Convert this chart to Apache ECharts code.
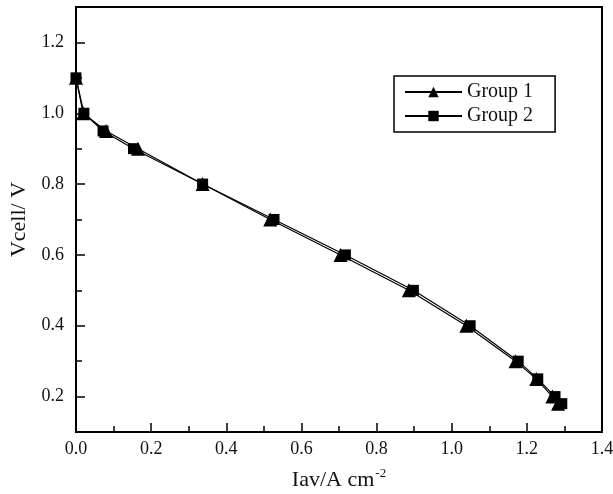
<!DOCTYPE html>
<html><head><meta charset="utf-8">
<script src="https://cdn.jsdelivr.net/npm/echarts@6/dist/echarts.min.js"></script>
<style>html,body{margin:0;padding:0;background:#fff}#c{width:613px;height:494px}</style>
</head><body><div id="c"></div>
<script>
const seriesNames = ['Group 1', 'Group 2'];
const group1X = [0.000, 0.019, 0.080, 0.165, 0.337, 0.517, 0.704, 0.886, 1.039, 1.170, 1.225, 1.268, 1.283];
const group1Y = [1.10, 1.00, 0.95, 0.90, 0.80, 0.70, 0.60, 0.50, 0.40, 0.30, 0.25, 0.20, 0.18];
const group2X = [0.000, 0.021, 0.072, 0.153, 0.337, 0.527, 0.717, 0.898, 1.049, 1.177, 1.229, 1.275, 1.293];
const group2Y = [1.10, 1.00, 0.95, 0.90, 0.80, 0.70, 0.60, 0.50, 0.40, 0.30, 0.25, 0.20, 0.18];
const yMajorTicks = [0.2, 0.4, 0.6, 0.8, 1.0, 1.2];
const yMinorTicks = [0.3, 0.5, 0.7, 0.9, 1.1];
const xTitle = 'Iav/A cm';
const xTitleSup = '-2';
const yTitle = 'Vcell/ V';

const font = '"Liberation Serif", "DejaVu Serif", serif';
const pair = (xs, ys) => xs.map((x, i) => [x, ys[i]]);

const chart = echarts.init(document.getElementById('c'), null, {renderer: 'canvas'});
chart.setOption({
  animation: false,
  backgroundColor: '#fff',
  textStyle: {fontFamily: font},
  grid: {left: 76, right: 11, top: 7, bottom: 62, show: true, borderColor: '#000', borderWidth: 2,
         backgroundColor: 'transparent', containLabel: false, outerBoundsMode: 'none'},
  legend: {
    left: 394, top: 76, orient: 'vertical',
    itemWidth: 57, itemHeight: 13, itemGap: 4,
    padding: [6, 22, 6, 10],
    borderColor: '#000', borderWidth: 1.5,
    textStyle: {fontFamily: font, fontSize: 20, color: '#111'},
    data: seriesNames
  },
  xAxis: {
    type: 'value', min: 0, max: 1.4, interval: 0.2,
    name: '{a|' + xTitle + '}{b|' + xTitleSup + '}',
    nameLocation: 'middle', nameGap: 35,
    nameTextStyle: {rich: {a: {fontFamily: font, fontSize: 22, color: '#111'}, b: {fontFamily: font, fontSize: 13, color: '#111', verticalAlign: 'top', padding: [0, 0, 14, 1]}}},
    axisLine: {show: true, onZero: false, lineStyle: {color: '#000', width: 2}},
    axisTick: {show: true, inside: true, length: 9, lineStyle: {color: '#000', width: 1.5}},
    minorTick: {show: true, splitNumber: 2, length: 6, lineStyle: {color: '#000', width: 1.5}},
    splitLine: {show: false},
    axisLabel: {fontFamily: font, fontSize: 18, color: '#111', margin: 8, formatter: v => v.toFixed(1)}
  },
  yAxis: [{
    type: 'value', min: 0.1, max: 1.3,
    name: yTitle, nameLocation: 'middle', nameGap: 43, nameRotate: 90,
    nameTextStyle: {fontFamily: font, fontSize: 22, color: '#111'},
    axisLine: {show: true, onZero: false, lineStyle: {color: '#000', width: 2}},
    axisTick: {show: true, inside: true, length: 9, customValues: yMajorTicks, lineStyle: {color: '#000', width: 1.5}},
    splitLine: {show: false},
    axisLabel: {fontFamily: font, fontSize: 18, color: '#111', margin: 12, customValues: yMajorTicks, formatter: v => v.toFixed(1)}
  }, {
    type: 'value', min: 0.1, max: 1.3, position: 'left',
    axisLine: {show: false},
    axisTick: {show: true, inside: true, length: 6, customValues: yMinorTicks, lineStyle: {color: '#000', width: 1.5}},
    axisLabel: {show: false},
    splitLine: {show: false}
  }],
  series: [{
    name: seriesNames[0], type: 'line', yAxisIndex: 0,
    data: pair(group1X, group1Y),
    symbol: 'triangle', symbolSize: 14,
    itemStyle: {color: '#000'},
    lineStyle: {color: '#000', width: 1.2}
  }, {
    name: seriesNames[1], type: 'line', yAxisIndex: 0,
    data: pair(group2X, group2Y),
    symbol: 'rect', symbolSize: 11,
    itemStyle: {color: '#000'},
    lineStyle: {color: '#000', width: 1.2}
  }]
});
</script></body></html>
